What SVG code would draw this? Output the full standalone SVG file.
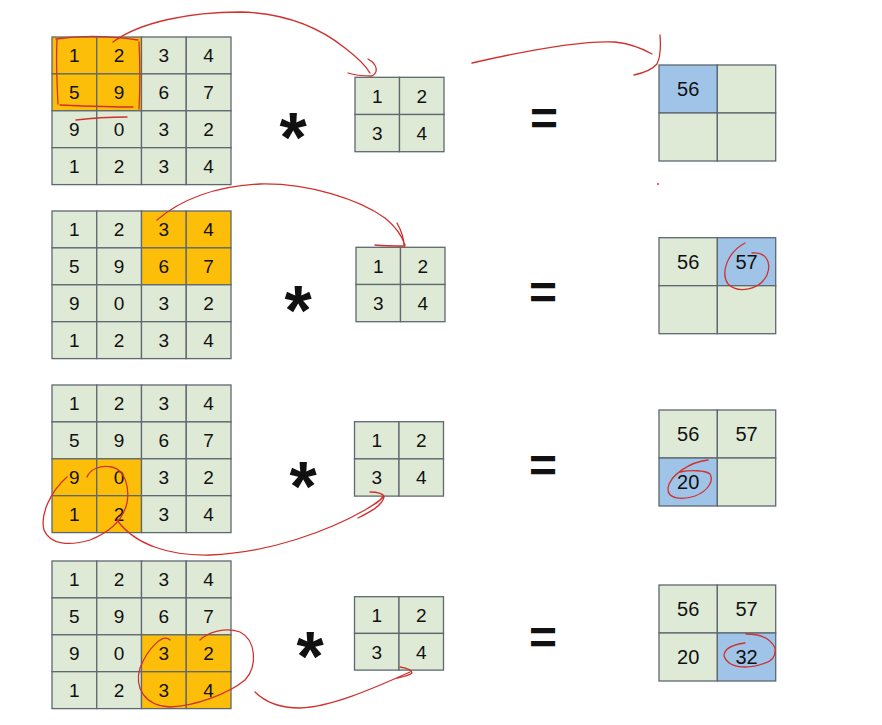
<svg xmlns="http://www.w3.org/2000/svg" width="882" height="725" viewBox="0 0 882 725">
<style>
.g{fill:#dfead6;stroke:#5d6870;stroke-width:1.3}
.o{fill:#fdbe0a;stroke:#5d6870;stroke-width:1.3}
.b{fill:#9fc4e8;stroke:#5d6870;stroke-width:1.3}
text{font-family:"Liberation Sans",Arial,sans-serif;fill:#111;text-anchor:middle}
.n{font-size:19px}
.r{font-size:20px}
.star{font-size:70px;font-weight:bold}
.eq{font-size:48px;font-weight:bold}
.red{fill:none;stroke:#d0312d;stroke-width:1.3;stroke-linecap:round;stroke-linejoin:round}
</style>
<rect width="882" height="725" fill="#ffffff"/>

<!-- Block 1 -->
<g id="input1">
<rect class="o" x="52" y="37" width="44.75" height="36.9"/><rect class="o" x="96.75" y="37" width="44.75" height="36.9"/><rect class="g" x="141.5" y="37" width="44.75" height="36.9"/><rect class="g" x="186.25" y="37" width="44.75" height="36.9"/>
<rect class="o" x="52" y="73.9" width="44.75" height="36.9"/><rect class="o" x="96.75" y="73.9" width="44.75" height="36.9"/><rect class="g" x="141.5" y="73.9" width="44.75" height="36.9"/><rect class="g" x="186.25" y="73.9" width="44.75" height="36.9"/>
<rect class="g" x="52" y="110.8" width="44.75" height="36.9"/><rect class="g" x="96.75" y="110.8" width="44.75" height="36.9"/><rect class="g" x="141.5" y="110.8" width="44.75" height="36.9"/><rect class="g" x="186.25" y="110.8" width="44.75" height="36.9"/>
<rect class="g" x="52" y="147.7" width="44.75" height="36.9"/><rect class="g" x="96.75" y="147.7" width="44.75" height="36.9"/><rect class="g" x="141.5" y="147.7" width="44.75" height="36.9"/><rect class="g" x="186.25" y="147.7" width="44.75" height="36.9"/>
<text class="n" x="74.4" y="62.2">1</text><text class="n" x="119.1" y="62.2">2</text><text class="n" x="163.9" y="62.2">3</text><text class="n" x="208.6" y="62.2">4</text>
<text class="n" x="74.4" y="99.1">5</text><text class="n" x="119.1" y="99.1">9</text><text class="n" x="163.9" y="99.1">6</text><text class="n" x="208.6" y="99.1">7</text>
<text class="n" x="74.4" y="136">9</text><text class="n" x="119.1" y="136">0</text><text class="n" x="163.9" y="136">3</text><text class="n" x="208.6" y="136">2</text>
<text class="n" x="74.4" y="172.9">1</text><text class="n" x="119.1" y="172.9">2</text><text class="n" x="163.9" y="172.9">3</text><text class="n" x="208.6" y="172.9">4</text>
</g>
<g id="kernel1">
<rect class="g" x="355" y="77.3" width="44.5" height="37.2"/><rect class="g" x="399.5" y="77.3" width="44.5" height="37.2"/>
<rect class="g" x="355" y="114.5" width="44.5" height="37.2"/><rect class="g" x="399.5" y="114.5" width="44.5" height="37.2"/>
<text class="n" x="377.25" y="102.6">1</text><text class="n" x="421.75" y="102.6">2</text>
<text class="n" x="377.25" y="139.8">3</text><text class="n" x="421.75" y="139.8">4</text>
</g>
<g id="output1">
<rect class="b" x="659" y="65" width="58.35" height="48"/><rect class="g" x="717.35" y="65" width="58.35" height="48"/>
<rect class="g" x="659" y="113" width="58.35" height="48"/><rect class="g" x="717.35" y="113" width="58.35" height="48"/>
<text class="r" x="688.2" y="96.2">56</text>
</g>
<g id="ops1"><text class="star" x="293" y="162">*</text><text class="eq" x="544" y="135">=</text></g>

<!-- Block 2 -->
<g id="input2">
<rect class="g" x="52" y="211" width="44.75" height="36.9"/><rect class="g" x="96.75" y="211" width="44.75" height="36.9"/><rect class="o" x="141.5" y="211" width="44.75" height="36.9"/><rect class="o" x="186.25" y="211" width="44.75" height="36.9"/>
<rect class="g" x="52" y="247.9" width="44.75" height="36.9"/><rect class="g" x="96.75" y="247.9" width="44.75" height="36.9"/><rect class="o" x="141.5" y="247.9" width="44.75" height="36.9"/><rect class="o" x="186.25" y="247.9" width="44.75" height="36.9"/>
<rect class="g" x="52" y="284.8" width="44.75" height="36.9"/><rect class="g" x="96.75" y="284.8" width="44.75" height="36.9"/><rect class="g" x="141.5" y="284.8" width="44.75" height="36.9"/><rect class="g" x="186.25" y="284.8" width="44.75" height="36.9"/>
<rect class="g" x="52" y="321.7" width="44.75" height="36.9"/><rect class="g" x="96.75" y="321.7" width="44.75" height="36.9"/><rect class="g" x="141.5" y="321.7" width="44.75" height="36.9"/><rect class="g" x="186.25" y="321.7" width="44.75" height="36.9"/>
<text class="n" x="74.4" y="236.2">1</text><text class="n" x="119.1" y="236.2">2</text><text class="n" x="163.9" y="236.2">3</text><text class="n" x="208.6" y="236.2">4</text>
<text class="n" x="74.4" y="273.1">5</text><text class="n" x="119.1" y="273.1">9</text><text class="n" x="163.9" y="273.1">6</text><text class="n" x="208.6" y="273.1">7</text>
<text class="n" x="74.4" y="310">9</text><text class="n" x="119.1" y="310">0</text><text class="n" x="163.9" y="310">3</text><text class="n" x="208.6" y="310">2</text>
<text class="n" x="74.4" y="346.9">1</text><text class="n" x="119.1" y="346.9">2</text><text class="n" x="163.9" y="346.9">3</text><text class="n" x="208.6" y="346.9">4</text>
</g>
<g id="kernel2">
<rect class="g" x="356" y="247.3" width="44.5" height="37.2"/><rect class="g" x="400.5" y="247.3" width="44.5" height="37.2"/>
<rect class="g" x="356" y="284.5" width="44.5" height="37.2"/><rect class="g" x="400.5" y="284.5" width="44.5" height="37.2"/>
<text class="n" x="378.25" y="272.6">1</text><text class="n" x="422.75" y="272.6">2</text>
<text class="n" x="378.25" y="309.8">3</text><text class="n" x="422.75" y="309.8">4</text>
</g>
<g id="output2">
<rect class="g" x="659" y="237.7" width="58.35" height="48"/><rect class="b" x="717.35" y="237.7" width="58.35" height="48"/>
<rect class="g" x="659" y="285.7" width="58.35" height="48"/><rect class="g" x="717.35" y="285.7" width="58.35" height="48"/>
<text class="r" x="688.2" y="268.9">56</text><text class="r" x="746.5" y="268.9">57</text>
</g>
<g id="ops2"><text class="star" x="298" y="335">*</text><text class="eq" x="543" y="309">=</text></g>

<!-- Block 3 -->
<g id="input3">
<rect class="g" x="52" y="385" width="44.75" height="36.9"/><rect class="g" x="96.75" y="385" width="44.75" height="36.9"/><rect class="g" x="141.5" y="385" width="44.75" height="36.9"/><rect class="g" x="186.25" y="385" width="44.75" height="36.9"/>
<rect class="g" x="52" y="421.9" width="44.75" height="36.9"/><rect class="g" x="96.75" y="421.9" width="44.75" height="36.9"/><rect class="g" x="141.5" y="421.9" width="44.75" height="36.9"/><rect class="g" x="186.25" y="421.9" width="44.75" height="36.9"/>
<rect class="o" x="52" y="458.8" width="44.75" height="36.9"/><rect class="o" x="96.75" y="458.8" width="44.75" height="36.9"/><rect class="g" x="141.5" y="458.8" width="44.75" height="36.9"/><rect class="g" x="186.25" y="458.8" width="44.75" height="36.9"/>
<rect class="o" x="52" y="495.7" width="44.75" height="36.9"/><rect class="o" x="96.75" y="495.7" width="44.75" height="36.9"/><rect class="g" x="141.5" y="495.7" width="44.75" height="36.9"/><rect class="g" x="186.25" y="495.7" width="44.75" height="36.9"/>
<text class="n" x="74.4" y="410.2">1</text><text class="n" x="119.1" y="410.2">2</text><text class="n" x="163.9" y="410.2">3</text><text class="n" x="208.6" y="410.2">4</text>
<text class="n" x="74.4" y="447.1">5</text><text class="n" x="119.1" y="447.1">9</text><text class="n" x="163.9" y="447.1">6</text><text class="n" x="208.6" y="447.1">7</text>
<text class="n" x="74.4" y="484">9</text><text class="n" x="119.1" y="484">0</text><text class="n" x="163.9" y="484">3</text><text class="n" x="208.6" y="484">2</text>
<text class="n" x="74.4" y="520.9">1</text><text class="n" x="119.1" y="520.9">2</text><text class="n" x="163.9" y="520.9">3</text><text class="n" x="208.6" y="520.9">4</text>
</g>
<g id="kernel3">
<rect class="g" x="354.5" y="421.7" width="44.5" height="37.2"/><rect class="g" x="399" y="421.7" width="44.5" height="37.2"/>
<rect class="g" x="354.5" y="458.9" width="44.5" height="37.2"/><rect class="g" x="399" y="458.9" width="44.5" height="37.2"/>
<text class="n" x="376.75" y="447">1</text><text class="n" x="421.25" y="447">2</text>
<text class="n" x="376.75" y="484.2">3</text><text class="n" x="421.25" y="484.2">4</text>
</g>
<g id="output3">
<rect class="g" x="659" y="410" width="58.35" height="48"/><rect class="g" x="717.35" y="410" width="58.35" height="48"/>
<rect class="b" x="659" y="458" width="58.35" height="48"/><rect class="g" x="717.35" y="458" width="58.35" height="48"/>
<text class="r" x="688.2" y="441.2">56</text><text class="r" x="746.5" y="441.2">57</text>
<text class="r" x="688.2" y="489.2">20</text>
</g>
<g id="ops3"><text class="star" x="303" y="511">*</text><text class="eq" x="543" y="482">=</text></g>

<!-- Block 4 -->
<g id="input4">
<rect class="g" x="52" y="561" width="44.75" height="36.9"/><rect class="g" x="96.75" y="561" width="44.75" height="36.9"/><rect class="g" x="141.5" y="561" width="44.75" height="36.9"/><rect class="g" x="186.25" y="561" width="44.75" height="36.9"/>
<rect class="g" x="52" y="597.9" width="44.75" height="36.9"/><rect class="g" x="96.75" y="597.9" width="44.75" height="36.9"/><rect class="g" x="141.5" y="597.9" width="44.75" height="36.9"/><rect class="g" x="186.25" y="597.9" width="44.75" height="36.9"/>
<rect class="g" x="52" y="634.8" width="44.75" height="36.9"/><rect class="g" x="96.75" y="634.8" width="44.75" height="36.9"/><rect class="o" x="141.5" y="634.8" width="44.75" height="36.9"/><rect class="o" x="186.25" y="634.8" width="44.75" height="36.9"/>
<rect class="g" x="52" y="671.7" width="44.75" height="36.9"/><rect class="g" x="96.75" y="671.7" width="44.75" height="36.9"/><rect class="o" x="141.5" y="671.7" width="44.75" height="36.9"/><rect class="o" x="186.25" y="671.7" width="44.75" height="36.9"/>
<text class="n" x="74.4" y="586.2">1</text><text class="n" x="119.1" y="586.2">2</text><text class="n" x="163.9" y="586.2">3</text><text class="n" x="208.6" y="586.2">4</text>
<text class="n" x="74.4" y="623.1">5</text><text class="n" x="119.1" y="623.1">9</text><text class="n" x="163.9" y="623.1">6</text><text class="n" x="208.6" y="623.1">7</text>
<text class="n" x="74.4" y="660">9</text><text class="n" x="119.1" y="660">0</text><text class="n" x="163.9" y="660">3</text><text class="n" x="208.6" y="660">2</text>
<text class="n" x="74.4" y="696.9">1</text><text class="n" x="119.1" y="696.9">2</text><text class="n" x="163.9" y="696.9">3</text><text class="n" x="208.6" y="696.9">4</text>
</g>
<g id="kernel4">
<rect class="g" x="354.5" y="596.7" width="44.5" height="36.7"/><rect class="g" x="399" y="596.7" width="44.5" height="36.7"/>
<rect class="g" x="354.5" y="633.4" width="44.5" height="36.7"/><rect class="g" x="399" y="633.4" width="44.5" height="36.7"/>
<text class="n" x="376.75" y="621.8">1</text><text class="n" x="421.25" y="621.8">2</text>
<text class="n" x="376.75" y="658.5">3</text><text class="n" x="421.25" y="658.5">4</text>
</g>
<g id="output4">
<rect class="g" x="659" y="585" width="58.35" height="48"/><rect class="g" x="717.35" y="585" width="58.35" height="48"/>
<rect class="g" x="659" y="633" width="58.35" height="48"/><rect class="b" x="717.35" y="633" width="58.35" height="48"/>
<text class="r" x="688.2" y="616.2">56</text><text class="r" x="746.5" y="616.2">57</text>
<text class="r" x="688.2" y="664.2">20</text><text class="r" x="746.5" y="664.2">32</text>
</g>
<g id="ops4"><text class="star" x="310" y="681">*</text><text class="eq" x="543" y="654">=</text></g>

<!-- hand-drawn red annotations -->
<g id="connectors" class="red">
<path d="M56,39 C75,36 105,35 138,40 M139,42 C140,62 140,88 139,109 M60,105 C85,106 110,107 133,107 M57,40 C56,60 57,85 58,104"/>
<path d="M76,120 C92,118 110,117 127,117"/>
<path d="M113,42 C140,22 190,12 240,12 C285,13 320,28 345,48 C358,58 366,66 370,73 M368,59 C377,64 379,72 372,76 C362,76 354,75 348,73"/>
<path d="M472,63 C520,52 580,40 615,42 C633,44 645,50 652,54 M660,35 C661,48 660,58 657,64 C652,70 643,73 634,75"/>
<circle cx="658" cy="184" r="1" fill="#d0312d" stroke="none"/>
<path d="M157,220 C180,200 215,186 260,184 C310,183 360,200 385,218 C396,227 402,236 405,245 M397,223 C401,230 404,238 404,246 M375,245 C385,246 395,246 405,246"/>
<path d="M745,243 C728,252 720,272 728,284 C738,294 760,290 767,275 C772,262 766,252 752,253"/>
<path d="M87,477 C90,469 100,465 112,467 C124,470 130,485 127,503 C123,520 110,532 90,540 C70,546 50,545 44,530 C40,515 50,492 67,477"/>
<path d="M117,520 C135,545 170,556 210,555 C270,553 330,530 365,510 C375,504 382,500 383,496 M370,492 C378,492 384,494 384,497 C382,506 370,512 358,518"/>
<path d="M708,460 C690,462 670,475 668,488 C667,498 680,501 695,496 C708,491 714,481 710,474 C705,470 690,470 680,472"/>
<path d="M170,640 C163,633 148,648 140,668 C134,688 145,706 170,707 C195,706 228,694 245,680 C258,666 256,640 240,632 C225,627 208,632 200,640"/>
<path d="M255,692 C265,702 280,708 300,708 C330,707 370,690 410,672 M400,667 C406,668 412,670 412,673 C408,676 402,677 397,678"/>
<path d="M746,634 C758,634 770,637 775,648 C776,656 772,661 765,663 C758,666 750,667 745,667 C735,667 727,664 724,656 C724,650 730,645 745,643"/>
</g>
</svg>
